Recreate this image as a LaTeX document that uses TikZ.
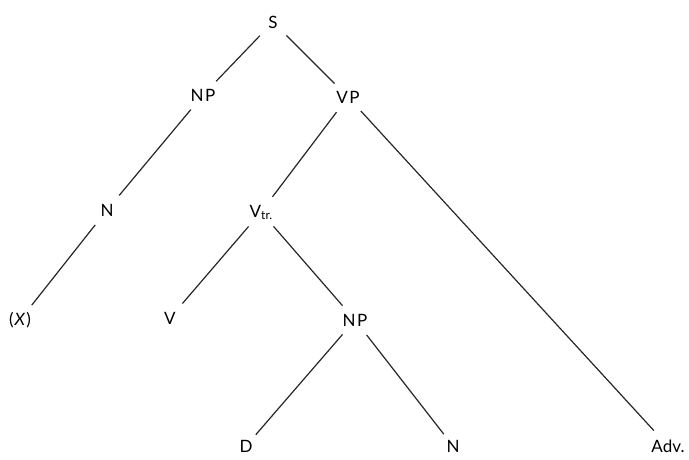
\documentclass[tikz,border=0pt]{standalone}
\usepackage{fontspec}
\setsansfont{Lato}

\begin{document}
\begin{tikzpicture}[
    x=1pt, y=-1pt, font=\sffamily,
    cat/.style={
      inner sep=0pt,
      font=\sffamily\fontsize{17}{20}\selectfont
    },
    branch/.style={
      line width=1.2pt,
      draw=black!85,
      shorten <=19pt,
      shorten >=19pt
    }
  ]
  \useasboundingbox (0,0) rectangle (689,459);

  % categories
  \node[cat] (s) at (273,22) {S};
  \node[cat] (np) at (203,95) {N\kern1.5pt P};
  \node[cat] (vp) at (348,97) {V\kern1.5pt P};
  \node[cat] (n) at (107,210) {N};
  \node[cat] (vtr) at (261,212) {V{\fontsize{12}{12}\selectfont\raisebox{-2pt}{tr.}}};
  \node[cat] (x) at (20,320) {(\kern1pt\textit{X}\kern1pt)};
  \node[cat] (v) at (170,318) {V};
  \node[cat] (npobj) at (355,320) {N\kern1.5pt P};
  \node[cat] (d) at (246,446) {D};
  \node[cat] (nobj) at (453,446) {N};
  \node[cat] (adv) at (668,446) {Adv.};

  % branches
  \draw[branch] (s.center) -- (np.center);
  \draw[branch] (s.center) -- (vp.center);
  \draw[branch] (np.center) -- (n.center);
  \draw[branch] (n.center) -- (x.center);
  \draw[branch] (vp.center) -- (vtr.center);
  \draw[branch,shorten >=21pt] (vp.center) -- (adv.center);
  \draw[branch] (vtr.center) -- (v.center);
  \draw[branch] (vtr.center) -- (npobj.center);
  \draw[branch,shorten >=15pt] (npobj.center) -- (d.center);
  \draw[branch,shorten >=15pt] (npobj.center) -- (nobj.center);
\end{tikzpicture}
\end{document}
